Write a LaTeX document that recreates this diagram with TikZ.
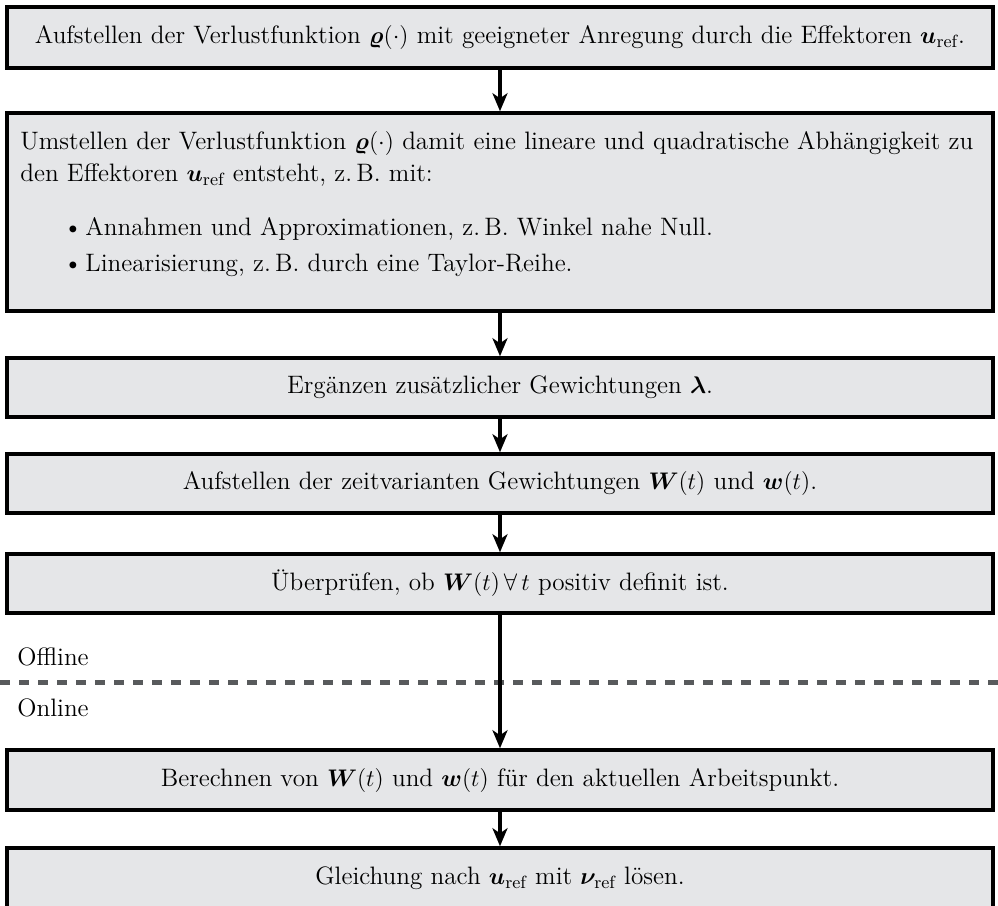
\documentclass[tikz,border=0pt]{standalone}
\usepackage{fontspec}
\usepackage{amsmath,bm}
\usetikzlibrary{arrows.meta}
\definecolor{boxfill}{RGB}{229,230,232}
\definecolor{dashgray}{RGB}{88,90,92}
\begin{document}
\begin{tikzpicture}[x=0.5pt,y=-0.5pt,
  font=\fontsize{12.6}{15.3}\selectfont,
  flowbox/.style={draw=black, line width=1.75pt, fill=boxfill, minimum width=493pt, inner sep=0pt, anchor=center},
  flowarrow/.style={line width=1.6pt, -{Stealth[length=9pt,width=7.5pt,inset=2.5pt]}},
  plain/.style={inner sep=0pt, anchor=base west},
]
\useasboundingbox (0,0) rectangle (998,906);
\clip (0,0) rectangle (998,906);

\node[flowbox, minimum height=30.5pt] (b1) at (500,37.5) {Aufstellen der Verlustfunktion $\bm{\varrho}(\cdot)$ mit geeigneter Anregung durch die Effektoren $\bm{u}_{\mathrm{ref}}$.};

\node[flowbox, minimum height=99pt] (b2) at (500,212) {};
\node[plain] (t21) at (20,149) {Umstellen der Verlustfunktion $\bm{\varrho}(\cdot)$ damit eine lineare und quadratische Abhängigkeit zu};
\node[plain] (t22) at (20,181) {den Effektoren $\bm{u}_{\mathrm{ref}}$ entsteht, z.\,B. mit:};
\node[plain] (bu1) at (63,235) {\textbullet};
\node[plain] (t23) at (85,235) {Annahmen und Approximationen, z.\,B. Winkel nahe Null.};
\node[plain] (bu2) at (63,271) {\textbullet};
\node[plain] (t24) at (85,271) {Linearisierung, z.\,B. durch eine Taylor-Reihe.};

\node[flowbox, minimum height=29.5pt] (b3) at (500,387.5) {Ergänzen zusätzlicher Gewichtungen $\bm{\lambda}$.};
\node[flowbox, minimum height=29.5pt] (b4) at (500,483.5) {Aufstellen der zeitvarianten Gewichtungen $\bm{W}(t)$ und $\bm{w}(t)$.};
\node[flowbox, minimum height=29.5pt] (b5) at (500,583.5) {Überprüfen, ob $\bm{W}(t)\,\forall\, t$ positiv definit ist.};
\node[flowbox, minimum height=30pt] (b6) at (500,780) {Berechnen von $\bm{W}(t)$ und $\bm{w}(t)$ für den aktuellen Arbeitspunkt.};
\node[flowbox, minimum height=30pt] (b7) at (500,878) {Gleichung nach $\bm{u}_{\mathrm{ref}}$ mit $\bm{\nu}_{\mathrm{ref}}$ lösen.};

\node[inner sep=0pt, anchor=west] (off) at (17,657) {Offline};
\node[inner sep=0pt, anchor=west] (on) at (17,708) {Online};
\coordinate (dl) at (0,682);
\coordinate (dr) at (998,682);
\draw[dashgray, line width=2.5pt, dash pattern=on 5pt off 4.5pt] (dl) -- (dr);

\draw[flowarrow] (b1.south) -- (b2.north);
\draw[flowarrow] (b2.south) -- (b3.north);
\draw[flowarrow] (b3.south) -- (b4.north);
\draw[flowarrow] (b4.south) -- (b5.north);
\draw[flowarrow] (b5.south) -- (b6.north);
\draw[flowarrow] (b6.south) -- (b7.north);
\end{tikzpicture}
\end{document}
